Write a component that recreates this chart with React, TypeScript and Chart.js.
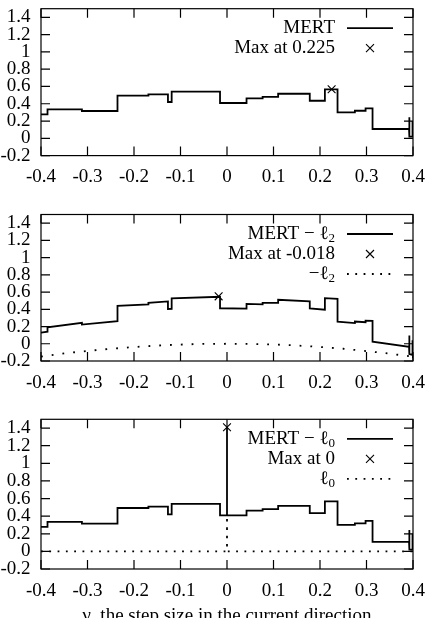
import React, { useEffect, useRef } from "react";
import { Chart, registerables } from "chart.js";

Chart.register(...registerables);

// ---------- axis ticks ----------
const X_TICKS = [-0.4, -0.3, -0.2, -0.1, 0, 0.1, 0.2, 0.3, 0.4];
const X_TICK_LABELS = ["-0.4", "-0.3", "-0.2", "-0.1", "0", "0.1", "0.2", "0.3", "0.4"];
const Y_TICKS = [-0.2, 0, 0.2, 0.4, 0.6, 0.8, 1, 1.2, 1.4];
const Y_TICK_LABELS = ["-0.2", "0", "0.2", "0.4", "0.6", "0.8", "1", "1.2", "1.4"];
const X_MIN = -0.4;
const X_MAX = 0.4;
const Y_MIN = -0.2;
const Y_MAX = 1.5;
const X_TITLE = "γ, the step size in the current direction";

// ---------- panel 1: MERT ----------
const MERT_X = [-0.4, -0.386, -0.386, -0.312, -0.312, -0.2355, -0.2355, -0.169, -0.169, -0.127, -0.127, -0.119, -0.119, -0.015, -0.015, 0.042, 0.042, 0.0766, 0.0766, 0.11, 0.11, 0.178, 0.178, 0.2105, 0.2105, 0.2377, 0.2377, 0.275, 0.275, 0.298, 0.298, 0.313, 0.313, 0.3915, 0.3915, 0.3925, 0.3925, 0.399, 0.399, 0.4];
const MERT_Y = [0.278, 0.278, 0.336, 0.336, 0.316, 0.316, 0.493, 0.493, 0.509, 0.509, 0.42, 0.42, 0.54, 0.54, 0.409, 0.409, 0.463, 0.463, 0.48, 0.48, 0.516, 0.516, 0.435, 0.435, 0.567, 0.567, 0.3, 0.3, 0.319, 0.319, 0.347, 0.347, 0.108, 0.108, 0.243, 0.243, 0.02, 0.02, 0.2, 0.01];
const MERT_MAX_X = [0.225];
const MERT_MAX_Y = [0.567];

// ---------- panel 2: MERT - l2 ----------
const MERT_L2_X = [-0.4, -0.386, -0.386, -0.312, -0.312, -0.2355, -0.2355, -0.169, -0.169, -0.127, -0.127, -0.119, -0.119, -0.015, -0.015, 0.042, 0.042, 0.0766, 0.0766, 0.11, 0.11, 0.178, 0.178, 0.2105, 0.2105, 0.2377, 0.2377, 0.275, 0.275, 0.298, 0.298, 0.313, 0.313, 0.3915, 0.3915, 0.3925, 0.3925, 0.399, 0.399, 0.4];
const MERT_L2_Y = [0.13, 0.14, 0.19, 0.243, 0.223, 0.262, 0.44, 0.458, 0.474, 0.492, 0.404, 0.406, 0.526, 0.545, 0.412, 0.408, 0.462, 0.458, 0.475, 0.474, 0.51, 0.492, 0.41, 0.395, 0.53, 0.52, 0.256, 0.24, 0.258, 0.25, 0.268, 0.266, 0.025, -0.036, 0.095, 0.095, -0.12, -0.13, 0.04, -0.167];
const NEG_L2_X = [-0.4, -0.35, -0.3, -0.25, -0.2, -0.15, -0.1, -0.05, 0, 0.05, 0.1, 0.15, 0.2, 0.25, 0.3, 0.35, 0.4];
const NEG_L2_Y = [-0.148, -0.112, -0.083, -0.058, -0.038, -0.021, -0.009, -0.002, 0, -0.002, -0.008, -0.02, -0.037, -0.058, -0.085, -0.115, -0.15];
const MERT_L2_MAX_X = [-0.018];
const MERT_L2_MAX_Y = [0.55];

// ---------- panel 3: MERT - l0 ----------
const MERT_L0_X = [-0.4, -0.386, -0.386, -0.312, -0.312, -0.2355, -0.2355, -0.169, -0.169, -0.127, -0.127, -0.119, -0.119, -0.015, -0.015, 0, 0, 0, 0.042, 0.042, 0.0766, 0.0766, 0.11, 0.11, 0.178, 0.178, 0.2105, 0.2105, 0.2377, 0.2377, 0.275, 0.275, 0.298, 0.298, 0.313, 0.313, 0.3915, 0.3915, 0.3925, 0.3925, 0.399, 0.399, 0.4];
const MERT_L0_Y = [0.278, 0.278, 0.336, 0.336, 0.316, 0.316, 0.493, 0.493, 0.509, 0.509, 0.42, 0.42, 0.54, 0.54, 0.409, 0.409, 1.41, 0.409, 0.409, 0.463, 0.463, 0.48, 0.48, 0.516, 0.516, 0.435, 0.435, 0.567, 0.567, 0.3, 0.3, 0.319, 0.319, 0.347, 0.347, 0.108, 0.108, 0.243, 0.243, 0.02, 0.02, 0.2, 0.01];
const L0_X = [-0.4, 0, 0, 0, 0.4];
const L0_Y = [0, 0, 0.4, 0, 0];
const MERT_L0_MAX_X = [0];
const MERT_L0_MAX_Y = [1.41];

// ---------- styling ----------
const FONT_FAMILY = '"Liberation Serif", "Times New Roman", serif';
const FONT_SIZE = 19;
const SUB_SIZE = 13;
const TICK_LEN = 9;
const LINE_W = 1.8;

type LegendItem = { text: string; sub?: string; kind: "line" | "cross" | "dots" };

const zip = (xs: number[], ys: number[]) => xs.map((x, i) => ({ x, y: ys[i] }));

const solid = (label: string, xs: number[], ys: number[]) => ({
  label,
  data: zip(xs, ys),
  borderColor: "#000",
  borderWidth: LINE_W,
  pointRadius: 0,
  fill: false,
  tension: 0,
  borderJoinStyle: "miter",
});

const dotted = (label: string, xs: number[], ys: number[], gap: number) => ({
  label,
  data: zip(xs, ys),
  borderColor: "#000",
  borderWidth: 1.8,
  borderDash: [1.8, gap],
  pointRadius: 0,
  fill: false,
  tension: 0,
});

const cross = (label: string, xs: number[], ys: number[]) => ({
  label,
  data: zip(xs, ys),
  showLine: false,
  borderColor: "#000",
  backgroundColor: "#000",
  pointStyle: "crossRot",
  pointRadius: 5.5,
  pointBorderWidth: 1.1,
});

const framePlugin = {
  id: "gnuFrame",
  beforeDatasetsDraw(chart: any) {
    const { ctx, chartArea: a, scales } = chart;
    ctx.save();
    ctx.strokeStyle = "#000";
    ctx.lineWidth = 1.2;
    ctx.beginPath();
    for (const v of X_TICKS) {
      const px = scales.x.getPixelForValue(v);
      ctx.moveTo(px, a.bottom);
      ctx.lineTo(px, a.bottom - TICK_LEN);
      ctx.moveTo(px, a.top);
      ctx.lineTo(px, a.top + TICK_LEN);
    }
    for (const v of Y_TICKS) {
      const py = scales.y.getPixelForValue(v);
      ctx.moveTo(a.left, py);
      ctx.lineTo(a.left + TICK_LEN, py);
      ctx.moveTo(a.right, py);
      ctx.lineTo(a.right - TICK_LEN, py);
    }
    ctx.stroke();
    ctx.strokeRect(a.left, a.top, a.right - a.left, a.bottom - a.top);
    ctx.restore();
  },
};

const LEG_TEXT_RIGHT = 335;
const LEG_SAMPLE_L = 347;
const LEG_SAMPLE_R = 393;
const LEG_ROW0 = 19.5;
const LEG_ROW_H = 20;

function makeLegendPlugin(items: LegendItem[]) {
  return {
    id: "gnuLegend",
    afterDatasetsDraw(chart: any) {
      const { ctx, chartArea: a } = chart;
      ctx.save();
      items.forEach((it, i) => {
        const y = a.top + LEG_ROW0 + i * LEG_ROW_H;
        let right = LEG_TEXT_RIGHT;
        ctx.fillStyle = "#000";
        ctx.textBaseline = "middle";
        if (it.sub) {
          ctx.font = `${SUB_SIZE}px ${FONT_FAMILY}`;
          const w = ctx.measureText(it.sub).width;
          ctx.textAlign = "left";
          ctx.fillText(it.sub, right - w, y + 5);
          right -= w;
        }
        ctx.font = `${FONT_SIZE}px ${FONT_FAMILY}`;
        ctx.textAlign = "right";
        ctx.fillText(it.text, right, y);
        ctx.strokeStyle = "#000";
        if (it.kind === "line") {
          ctx.lineWidth = LINE_W;
          ctx.setLineDash([]);
          ctx.beginPath();
          ctx.moveTo(LEG_SAMPLE_L, y);
          ctx.lineTo(LEG_SAMPLE_R, y);
          ctx.stroke();
        } else if (it.kind === "dots") {
          ctx.lineWidth = 1.8;
          ctx.setLineDash([1.8, 6.5]);
          ctx.beginPath();
          ctx.moveTo(LEG_SAMPLE_L, y);
          ctx.lineTo(LEG_SAMPLE_R, y);
          ctx.stroke();
          ctx.setLineDash([]);
        } else {
          const cx = (LEG_SAMPLE_L + LEG_SAMPLE_R) / 2;
          const r = 4;
          ctx.lineWidth = 1.1;
          ctx.beginPath();
          ctx.moveTo(cx - r, y - r);
          ctx.lineTo(cx + r, y + r);
          ctx.moveTo(cx + r, y - r);
          ctx.lineTo(cx - r, y + r);
          ctx.stroke();
        }
      });
      ctx.restore();
    },
  };
}

type PanelProps = {
  top: number;
  height: number;
  padTop: number;
  areaH: number;
  datasets: any[];
  legend: LegendItem[];
  showTitle?: boolean;
};

function Panel({ top, height, padTop, areaH, datasets, legend, showTitle }: PanelProps) {
  const ref = useRef<HTMLCanvasElement>(null);
  useEffect(() => {
    const font = { family: FONT_FAMILY, size: FONT_SIZE };
    const chart = new Chart(ref.current as HTMLCanvasElement, {
      type: "line",
      data: { datasets },
      options: {
        animation: false,
        responsive: false,
        maintainAspectRatio: false,
        devicePixelRatio: 1,
        events: [],
        layout: { padding: { top: padTop, right: 15, left: 0, bottom: 0 } },
        plugins: { legend: { display: false }, tooltip: { enabled: false } },
        scales: {
          x: {
            type: "linear",
            min: X_MIN,
            max: X_MAX,
            grid: { display: false, drawTicks: false },
            border: { display: false },
            ticks: {
              font,
              color: "#000",
              padding: 10.5,
              autoSkip: false,
              maxRotation: 0,
              minRotation: 0,
              callback: (_v: any, i: number) => X_TICK_LABELS[i],
            },
            title: showTitle
              ? { display: true, text: X_TITLE, font, color: "#000", padding: { top: 0, bottom: 13 } }
              : { display: false },
            afterBuildTicks: (s: any) => {
              s.ticks = X_TICKS.map((value) => ({ value }));
            },
            afterFit: (s: any) => {
              s.height = height - padTop - areaH;
              s.paddingLeft = 0;
              s.paddingRight = 0;
            },
          },
          y: {
            type: "linear",
            min: Y_MIN,
            max: Y_MAX,
            grid: { display: false, drawTicks: false },
            border: { display: false },
            ticks: {
              font,
              color: "#000",
              padding: 10.5,
              autoSkip: false,
              callback: (_v: any, i: number) => Y_TICK_LABELS[i],
            },
            afterBuildTicks: (s: any) => {
              s.ticks = Y_TICKS.map((value) => ({ value }));
            },
            afterFit: (s: any) => {
              s.width = 41;
              s.paddingTop = 0;
              s.paddingBottom = 0;
            },
          },
        },
      } as any,
      plugins: [framePlugin, makeLegendPlugin(legend)],
    } as any);
    return () => chart.destroy();
  }, []);
  return (
    <canvas
      ref={ref}
      width={428}
      height={height}
      style={{ position: "absolute", left: 0, top, width: 428, height, display: "block" }}
    />
  );
}

export default function App() {
  return (
    <div
      style={{
        position: "absolute",
        left: 0,
        top: 0,
        width: 428,
        height: 618,
        overflow: "hidden",
        background: "#fff",
      }}
    >
      <Panel
        top={0}
        height={200}
        padTop={8.7}
        areaH={146.9}
        datasets={[solid("MERT", MERT_X, MERT_Y), cross("Max at 0.225", MERT_MAX_X, MERT_MAX_Y)]}
        legend={[
          { text: "MERT", kind: "line" },
          { text: "Max at 0.225", kind: "cross" },
        ]}
      />
      <Panel
        top={205}
        height={200}
        padTop={9.5}
        areaH={146.5}
        datasets={[
          solid("MERT − ℓ2", MERT_L2_X, MERT_L2_Y),
          cross("Max at -0.018", MERT_L2_MAX_X, MERT_L2_MAX_Y),
          dotted("−ℓ2", NEG_L2_X, NEG_L2_Y, 9),
        ]}
        legend={[
          { text: "MERT − ℓ", sub: "2", kind: "line" },
          { text: "Max at -0.018", kind: "cross" },
          { text: "−ℓ", sub: "2", kind: "dots" },
        ]}
      />
      <Panel
        top={410}
        height={230}
        padTop={9.3}
        areaH={149.7}
        showTitle
        datasets={[
          solid("MERT − ℓ0", MERT_L0_X, MERT_L0_Y),
          cross("Max at 0", MERT_L0_MAX_X, MERT_L0_MAX_Y),
          dotted("ℓ0", L0_X, L0_Y, 6.5),
        ]}
        legend={[
          { text: "MERT − ℓ", sub: "0", kind: "line" },
          { text: "Max at 0", kind: "cross" },
          { text: "ℓ", sub: "0", kind: "dots" },
        ]}
      />
    </div>
  );
}
